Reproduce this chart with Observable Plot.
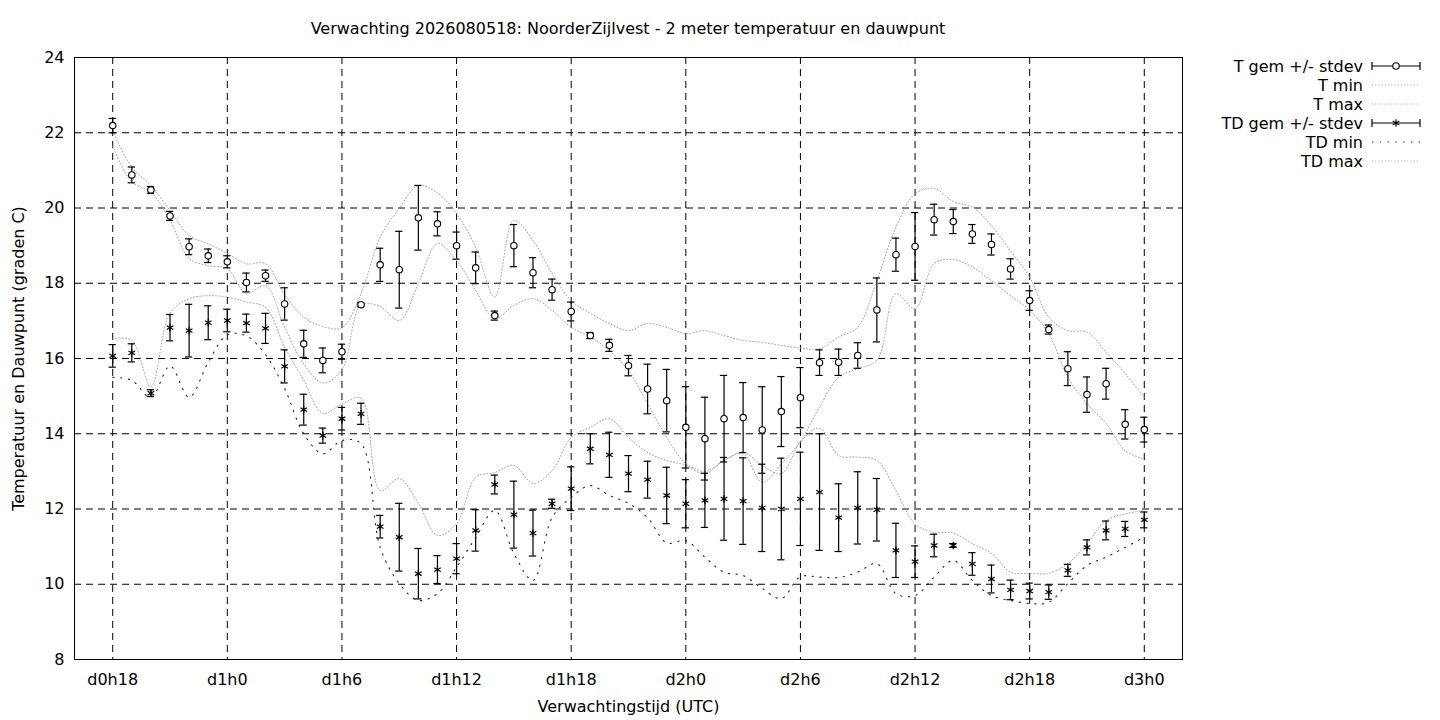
<!DOCTYPE html>
<html>
<head>
<meta charset="utf-8">
<script src="https://cdn.jsdelivr.net/npm/d3@7"></script>
<script src="https://cdn.jsdelivr.net/npm/@observablehq/plot@0.6"></script>
<style>
  body { margin: 0; background: #fff; font-family: "DejaVu Sans", sans-serif; }
  #wrap { position: relative; width: 1440px; height: 720px; overflow: hidden; }
  #title { height: 44px; box-sizing: border-box; padding-top: 20px; margin-left: 74px; width: 1108px;
           text-align: center; font-size: 16px; line-height: 18px; color: #000; }
  #legend { position: absolute; left: 1200px; top: 56px; }
  svg { font-family: "DejaVu Sans", sans-serif; }
</style>
</head>
<body>
<div id="wrap">
  <div id="title">Verwachting 2026080518: NoorderZijlvest - 2 meter temperatuur en dauwpunt</div>
  <div id="chart"></div>
  <div id="legend"></div>
</div>
<script>
const hours = [18,19,20,21,22,23,24,25,26,27,28,29,30,31,32,33,34,35,36,37,38,39,40,41,42,43,44,45,46,47,48,49,50,51,52,53,54,55,56,57,58,59,60,61,62,63,64,65,66,67,68,69,70,71,72];

const tMean = [22.19,20.88,20.48,19.79,18.97,18.73,18.57,18.02,18.2,17.45,16.39,15.95,16.18,17.43,18.49,18.36,19.74,19.58,19.0,18.41,17.14,19.0,18.28,17.83,17.25,16.61,16.35,15.81,15.19,14.88,14.17,13.87,14.4,14.43,14.1,14.59,14.96,15.89,15.9,16.08,17.29,18.76,18.98,19.69,19.64,19.31,19.03,18.38,17.54,16.77,15.73,15.04,15.33,14.25,14.11];
const tStd = [0.19,0.21,0.09,0.12,0.21,0.18,0.16,0.25,0.15,0.43,0.36,0.33,0.2,0.05,0.44,1.02,0.86,0.32,0.36,0.42,0.12,0.56,0.4,0.28,0.25,0.08,0.16,0.27,0.66,0.83,1.08,1.1,1.15,0.93,1.15,0.93,0.8,0.34,0.35,0.34,0.85,0.44,0.9,0.41,0.32,0.25,0.28,0.27,0.26,0.12,0.45,0.47,0.41,0.39,0.33];
const tMin = [21.65,20.69,20.42,19.67,18.66,18.47,18.39,17.73,17.94,16.83,15.85,15.35,15.7,17.42,17.38,17.01,17.99,19.05,18.6,17.81,17.06,17.41,17.59,17.28,16.83,16.57,16.21,15.68,14.8,13.9,13.2,12.94,13.29,13.47,12.71,13.2,13.8,14.71,15.5,15.73,15.95,17.72,17.33,18.52,18.63,18.43,18.07,17.67,17.28,16.66,15.5,14.8,14.27,13.55,13.33];
const tMax = [22.05,21.08,20.6,19.93,19.27,19.05,18.79,18.52,18.52,17.7,17.1,16.85,16.82,17.72,19.22,19.99,20.6,20.4,19.85,18.96,17.63,19.67,19.14,18.26,17.54,17.2,16.93,16.74,16.93,16.83,16.66,16.74,16.61,16.48,16.43,16.35,16.28,16.26,16.57,16.83,18.07,19.49,20.38,20.52,20.17,20.02,19.53,18.86,18.16,17.1,16.74,16.7,16.17,15.6,14.97];

const tdMean = [16.07,16.15,15.08,16.82,16.74,16.95,17.01,16.94,16.8,15.79,14.64,13.95,14.4,14.53,11.53,11.25,10.28,10.39,10.68,11.43,12.65,11.85,11.36,12.14,12.54,13.6,13.44,12.94,12.78,12.36,12.14,12.23,12.27,12.21,12.03,12.0,12.27,12.45,11.77,12.03,11.98,10.9,10.6,11.03,11.03,10.54,10.14,9.85,9.82,9.79,10.37,10.98,11.43,11.47,11.71];
const tdStd = [0.3,0.24,0.09,0.35,0.7,0.45,0.3,0.24,0.4,0.44,0.41,0.2,0.3,0.28,0.3,0.9,0.67,0.37,0.4,0.55,0.25,0.89,0.61,0.12,0.58,0.4,0.6,0.48,0.49,0.75,0.64,0.72,1.1,1.15,1.16,1.35,1.24,1.55,0.9,0.96,0.83,0.72,0.42,0.3,0.05,0.3,0.37,0.26,0.21,0.19,0.16,0.2,0.25,0.2,0.21];
const tdMin = [15.5,15.42,14.97,15.8,14.97,15.9,16.63,16.6,16.1,15.2,14.0,13.47,13.82,13.74,10.98,10.02,9.57,9.75,10.45,11.24,11.96,10.82,10.1,11.77,12.31,12.62,12.36,12.15,11.77,11.1,11.16,10.72,10.32,10.23,9.89,9.62,10.2,10.19,10.18,10.32,10.55,9.75,9.7,10.19,10.63,10.1,9.7,9.57,9.49,9.52,10.02,10.5,10.72,10.98,11.25];
const tdMax = [16.53,16.48,15.25,17.2,17.59,17.67,17.63,17.5,17.36,16.3,15.42,14.54,14.8,14.94,12.49,12.81,12.15,11.3,11.61,12.84,12.97,13.16,12.68,13.02,13.9,14.17,14.4,13.9,13.5,13.29,13.17,13.0,13.29,13.5,13.16,12.94,13.78,14.15,13.42,13.38,13.29,12.49,11.6,11.38,11.36,11.08,10.82,10.32,10.29,10.29,10.55,11.08,11.69,11.87,11.96];

const xTicks = [18,24,30,36,42,48,54,60,66,72];
const yTicks = [8,10,12,14,16,18,20,22,24];
const xLabel = "Verwachtingstijd (UTC)";
const yLabel = "Temperatuur en Dauwpunt (graden C)";
const legendLabels = ["T gem +/- stdev","T min","T max","TD gem +/- stdev","TD min","TD max"];

const rows = hours.map((h, i) => ({
  h, tm: tMean[i], ts: tStd[i], tmin: tMin[i], tmax: tMax[i],
  dm: tdMean[i], ds: tdStd[i], dmin: tdMin[i], dmax: tdMax[i]
}));

const capHalf = 0.19; // hours
const lightDot = {stroke: "#a0a0a0", strokeWidth: 1, strokeDasharray: "1,2.2", curve: "catmull-rom"};
const darkDot = {stroke: "#222", strokeWidth: 1.1, strokeDasharray: "1.3,6.5", curve: "catmull-rom"};
const fmtX = h => `d${Math.floor(h / 24)}h${h % 24}`;

const chart = Plot.plot({
  width: 1440,
  height: 676,
  marginLeft: 74,
  marginRight: 258,
  marginTop: 13,
  marginBottom: 61,
  style: {fontFamily: "DejaVu Sans, sans-serif", fontSize: "16px", color: "#000", background: "#fff"},
  x: {domain: [16, 74]},
  y: {domain: [8, 24]},
  marks: [
    Plot.gridX(xTicks, {stroke: "#000", strokeOpacity: 1, strokeDasharray: "7,5"}),
    Plot.gridY(yTicks, {stroke: "#000", strokeOpacity: 1, strokeDasharray: "7,5"}),
    Plot.axisX(xTicks, {tickFormat: fmtX, tickSize: 0, tickPadding: 14, fontSize: 16, label: null}),
    Plot.axisY(yTicks, {tickSize: 0, tickPadding: 10, fontSize: 16, label: null}),
    Plot.text([xLabel], {frameAnchor: "bottom", lineAnchor: "middle", dy: 47, fontSize: 16, fill: "#000"}),
    Plot.text([yLabel], {frameAnchor: "left", textAnchor: "middle", lineAnchor: "middle", dx: -56, rotate: -90, fontSize: 16, fill: "#000"}),
    // min / max lines
    Plot.line(rows, {x: "h", y: "tmin", ...lightDot}),
    Plot.line(rows, {x: "h", y: "tmax", ...lightDot}),
    Plot.line(rows, {x: "h", y: "dmin", ...darkDot}),
    Plot.line(rows, {x: "h", y: "dmax", ...lightDot}),
    // T error bars
    Plot.ruleX(rows, {x: "h", y1: d => d.tm - d.ts, y2: d => d.tm + d.ts, stroke: "#000", strokeWidth: 1.2}),
    Plot.ruleY(rows, {y: d => d.tm - d.ts, x1: d => d.h - capHalf, x2: d => d.h + capHalf, stroke: "#000", strokeWidth: 1.2}),
    Plot.ruleY(rows, {y: d => d.tm + d.ts, x1: d => d.h - capHalf, x2: d => d.h + capHalf, stroke: "#000", strokeWidth: 1.2}),
    Plot.dot(rows, {x: "h", y: "tm", r: 3.2, fill: "#fff", stroke: "#000", strokeWidth: 1.1}),
    // TD error bars
    Plot.ruleX(rows, {x: "h", y1: d => d.dm - d.ds, y2: d => d.dm + d.ds, stroke: "#000", strokeWidth: 1.2}),
    Plot.ruleY(rows, {y: d => d.dm - d.ds, x1: d => d.h - capHalf, x2: d => d.h + capHalf, stroke: "#000", strokeWidth: 1.2}),
    Plot.ruleY(rows, {y: d => d.dm + d.ds, x1: d => d.h - capHalf, x2: d => d.h + capHalf, stroke: "#000", strokeWidth: 1.2}),
    Plot.dot(rows, {x: "h", y: "dm", symbol: "asterisk", r: 3.6, stroke: "#000", strokeWidth: 1.2}),
    Plot.frame({stroke: "#000", strokeWidth: 1})
  ]
});
document.getElementById("chart").appendChild(chart);

// Legend
const lg = d3.select("#legend").append("svg").attr("width", 240).attr("height", 125)
  .style("font-family", "DejaVu Sans, sans-serif").style("font-size", "16px");
const x0 = 172, x1 = 220, tx = 163;
legendLabels.forEach((lab, i) => {
  const y = 10 + 19 * i;
  lg.append("text").attr("x", tx).attr("y", y).attr("dy", "0.35em").attr("text-anchor", "end").attr("fill", "#000").text(lab);
  const g = lg.append("g");
  if (i === 0 || i === 3) {
    g.append("line").attr("x1", x0).attr("x2", x1).attr("y1", y).attr("y2", y).attr("stroke", "#000").attr("stroke-width", 1.2);
    g.append("line").attr("x1", x0).attr("x2", x0).attr("y1", y - 4).attr("y2", y + 4).attr("stroke", "#000").attr("stroke-width", 1.2);
    g.append("line").attr("x1", x1).attr("x2", x1).attr("y1", y - 4).attr("y2", y + 4).attr("stroke", "#000").attr("stroke-width", 1.2);
    const cx = (x0 + x1) / 2;
    if (i === 0) {
      g.append("circle").attr("cx", cx).attr("cy", y).attr("r", 3.2).attr("fill", "#fff").attr("stroke", "#000").attr("stroke-width", 1.1);
    } else {
      g.append("path").attr("transform", `translate(${cx},${y})`)
        .attr("d", d3.symbol(d3.symbolAsterisk, Math.PI * 3.6 * 3.6)())
        .attr("fill", "none").attr("stroke", "#000").attr("stroke-width", 1.2);
    }
  } else {
    const dark = i === 4;
    g.append("line").attr("x1", x0).attr("x2", x1).attr("y1", y).attr("y2", y)
      .attr("stroke", dark ? "#222" : "#a0a0a0").attr("stroke-width", dark ? 1.1 : 1)
      .attr("stroke-dasharray", dark ? "1.3,6.5" : "1,2.2");
  }
});
</script>
</body>
</html>
